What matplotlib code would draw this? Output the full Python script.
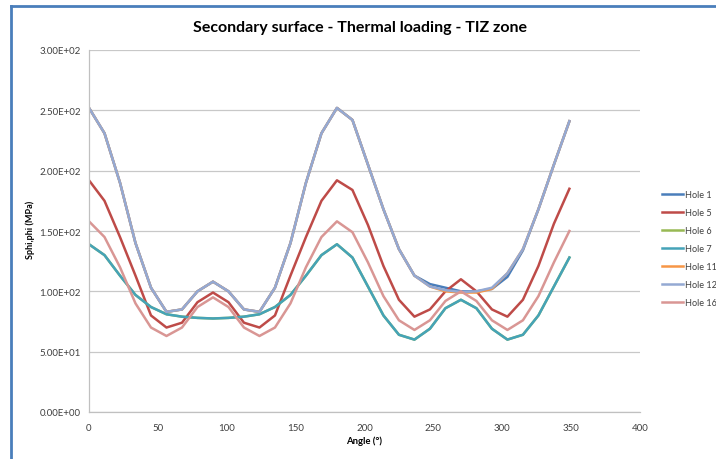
import matplotlib
matplotlib.use("Agg")
import matplotlib.pyplot as plt
from matplotlib.lines import Line2D

angles = [0, 11.25, 22.5, 33.75, 45, 56.25, 67.5, 78.75, 90, 101.25, 112.5, 123.75,
          135, 146.25, 157.5, 168.75, 180, 191.25, 202.5, 213.75, 225, 236.25, 247.5,
          258.75, 270, 281.25, 292.5, 303.75, 315, 326.25, 337.5, 348.75]

hole1 = [252, 231, 190, 140, 103, 83, 85, 100, 108, 100, 85, 83, 103, 140, 190, 231,
         252, 242, 205, 168, 135, 113, 106, 103, 100, 100, 102, 112, 134, 168, 205, 241]
hole5 = [192, 175, 145, 113, 80, 70, 74, 91, 99, 91, 74, 70, 80, 113, 145, 175,
         192, 184, 155, 121, 93, 79, 85, 100, 110, 100, 85, 79, 93, 121, 156, 185]
hole6 = [139, 130, 113, 97, 87, 81, 79, 78, 77.5, 78, 79, 81, 87, 97, 113, 130,
         139, 128, 104, 80, 64, 60, 69, 86, 93, 86, 69, 60, 64, 80, 104, 128]
hole7 = [139, 130, 113, 97, 87, 81, 79, 78, 77.5, 78, 79, 81, 87, 97, 113, 130,
         139, 128, 104, 80, 64, 60, 69, 86, 93, 86, 69, 60, 64, 80, 104, 128]
hole11 = [252, 231, 190, 140, 103, 83, 85, 100, 108, 100, 85, 83, 103, 140, 190, 231,
          252, 242, 205, 168, 135, 113, 104, 100, 99, 99, 102, 115, 135, 168, 205, 241]
hole12 = [252, 231, 190, 140, 103, 83, 85, 100, 108, 100, 85, 83, 103, 140, 190, 231,
          252, 242, 205, 168, 135, 113, 104, 101, 99.5, 100, 103, 115, 135, 168, 205, 241]
hole16 = [158, 145, 120, 90, 70, 63, 70, 87, 95, 87, 70, 63, 70, 90, 120, 145,
          158, 149, 124, 96, 76, 68, 76, 92, 100, 92, 76, 68, 76, 96, 124, 150]

series = [("Hole 1", hole1, "#4A7EBB"), ("Hole 5", hole5, "#BE4B48"),
          ("Hole 6", hole6, "#98B954"), ("Hole 7", hole7, "#45A3B8"),
          ("Hole 11", hole11, "#F79646"), ("Hole 12", hole12, "#94A9D3"),
          ("Hole 16", hole16, "#D99694")]

yticks = [0, 50, 100, 150, 200, 250, 300]
ytick_labels = ["0.00E+00", "5.00E+01", "1.00E+02", "1.50E+02", "2.00E+02", "2.50E+02", "3.00E+02"]
xticks = [0, 50, 100, 150, 200, 250, 300, 350, 400]

W, H = 716, 460
fig = plt.figure(figsize=(W / 100, H / 100), dpi=100)
plt.rcParams['font.family'] = ['Lato', 'DejaVu Sans']

x0, x1, ytop, ybot = 89, 640, 51, 413
ax = fig.add_axes([x0 / W, 1 - ybot / H, (x1 - x0) / W, (ybot - ytop) / H])

for name, vals, col in series:
    ax.plot(angles, vals, color=col, lw=1.8, label=name, solid_joinstyle='round')

ax.set_xlim(0, 400)
ax.set_ylim(0, 300)
ax.set_yticks(yticks)
ax.set_yticklabels(ytick_labels)
ax.set_xticks(xticks)
ax.tick_params(axis='both', length=0, labelsize=7, colors='#404040', pad=6)
ax.tick_params(axis='x', pad=8)
ax.grid(axis='y', color='#c8c8c8', lw=0.9)
ax.set_axisbelow(True)
for s in ['top', 'right']:
    ax.spines[s].set_visible(False)
for s in ['left', 'bottom']:
    ax.spines[s].set_color('#c0c0c0')
    ax.spines[s].set_linewidth(0.9)

fig.text(360 / W, 1 - 28 / H, "Secondary surface - Thermal loading - TIZ zone",
         ha='center', va='center', fontsize=11.5, fontweight='bold')
fig.text(30 / W, 1 - 230 / H, "Sphi,phi (MPa)", rotation=90, ha='center', va='center',
         fontsize=6.5, fontweight='bold')
fig.text(364 / W, 1 - 441 / H, "Angle (°)", ha='center', va='center',
         fontsize=6.8, fontweight='bold')

leg = ax.legend(loc='upper left', bbox_to_anchor=(662 / W, 1 - 191 / H),
                bbox_transform=fig.transFigure, frameon=False, fontsize=6.6,
                handlelength=2.3, handletextpad=0.2, labelspacing=0.98,
                borderpad=0, borderaxespad=0)
for t in leg.get_texts():
    t.set_color('#404040')

blue = '#4A7EBB'
fig.add_artist(Line2D([11 / W, 1], [1 - 7 / H, 1 - 7 / H], transform=fig.transFigure,
                      color=blue, lw=2))
fig.add_artist(Line2D([11 / W, 11 / W], [0, 1 - 7 / H], transform=fig.transFigure,
                      color=blue, lw=2))

fig.savefig("out.png", dpi=100)
